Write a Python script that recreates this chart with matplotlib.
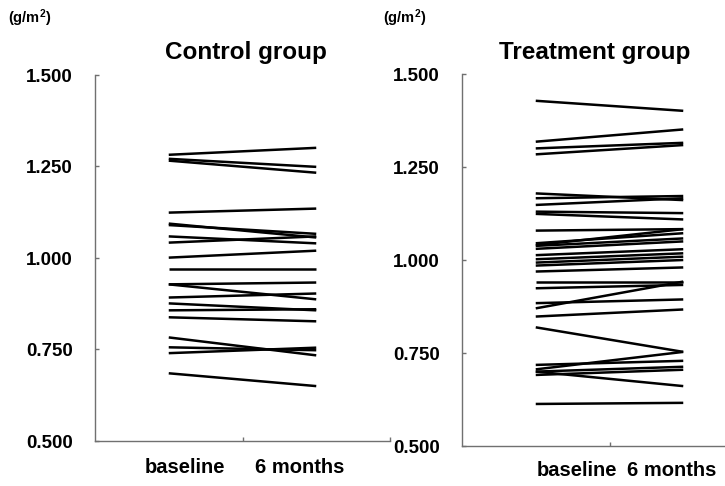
import matplotlib
matplotlib.use("Agg")
import matplotlib.pyplot as plt

plt.rcParams['font.family'] = ['Liberation Sans', 'DejaVu Sans']
plt.rcParams['mathtext.fontset'] = 'custom'
plt.rcParams['mathtext.rm'] = 'Liberation Sans'
plt.rcParams['mathtext.bf'] = 'Liberation Sans:bold'
plt.rcParams['mathtext.default'] = 'bf'

# ---- data ----
groups = ["Control group", "Treatment group"]
time_labels = ["baseline", "6 months"]
unit_label = "(g/m$^{2}$)"
yticks = [0.500, 0.750, 1.000, 1.250, 1.500]
ytick_labels = ["0.500", "0.750", "1.000", "1.250", "1.500"]

control_baseline = [1.282, 1.271, 1.266, 1.124, 1.094, 1.090, 1.059, 1.042, 1.001,
                    0.969, 0.928, 0.928, 0.892, 0.876, 0.857, 0.838, 0.783, 0.756,
                    0.740, 0.685]
control_6months = [1.301, 1.249, 1.233, 1.135, 1.056, 1.066, 1.040, 1.059, 1.020,
                   0.969, 0.933, 0.887, 0.903, 0.857, 0.860, 0.827, 0.734, 0.748,
                   0.755, 0.650]

treat_baseline = [1.428, 1.318, 1.300, 1.284, 1.179, 1.166, 1.148, 1.130, 1.124,
                  1.079, 1.045, 1.038, 1.040, 1.030, 1.013, 1.002, 0.993, 0.985,
                  0.969, 0.942, 0.924, 0.884, 0.870, 0.848, 0.819, 0.718, 0.706,
                  0.700, 0.691, 0.700, 0.613]
treat_6months = [1.401, 1.351, 1.315, 1.309, 1.161, 1.172, 1.166, 1.126, 1.109,
                 1.083, 1.072, 1.058, 1.083, 1.050, 1.029, 1.018, 1.009, 1.000,
                 0.980, 0.942, 0.933, 0.894, 0.942, 0.867, 0.753, 0.729, 0.753,
                 0.713, 0.705, 0.661, 0.616]

W, H = 725, 486
fig = plt.figure(figsize=(W / 100, H / 100), dpi=100)

panels = [
    dict(rect=(95, 75, 390, 441), base=control_baseline, six=control_6months,
         unit_xy=(8, 18), title_x=246, lab_x=(0.61, 1.39), lab_y=-0.072),
    dict(rect=(462, 74, 757, 446), base=treat_baseline, six=treat_6months,
         unit_xy=(383, 18), title_x=595, lab_x=(0.78, 1.42), lab_y=-0.066),
]

for g, p in zip(groups, panels):
    x0, ytop, x1, ybot = p['rect']
    ax = fig.add_axes([x0 / W, 1 - ybot / H, (x1 - x0) / W, (ybot - ytop) / H])
    for b, s in zip(p['base'], p['six']):
        ax.plot([0.5, 1.5], [b, s], color='black', lw=1.8, solid_capstyle='butt',
                clip_on=False)
    ax.set_xlim(0, 2)
    ax.set_ylim(0.5, 1.5)
    for side in ['top', 'right']:
        ax.spines[side].set_visible(False)
    for side in ['left', 'bottom']:
        ax.spines[side].set_color('#707070')
        ax.spines[side].set_linewidth(1.0)
    ax.set_yticks(yticks)
    ax.set_yticklabels(ytick_labels, fontsize=13.5, fontweight='bold')
    ax.set_xticks([1, 2])
    ax.set_xticklabels([])
    ax.tick_params(axis='both', direction='in', length=3, color='#707070', width=1)
    ax.tick_params(axis='y', pad=16)
    for lx, lab in zip(p['lab_x'], time_labels):
        ax.text(lx, p['lab_y'], lab, transform=ax.get_xaxis_transform(), ha='center',
                va='center', fontsize=14.5, fontweight='bold')
    fig.text(p['title_x'] / W, 1 - 52 / H, g, ha='center', va='center',
             fontsize=17.5, fontweight='bold')
    fig.text(p['unit_xy'][0] / W, 1 - p['unit_xy'][1] / H, unit_label, ha='left',
             va='center', fontsize=10.5, fontweight='bold')

fig.savefig("out.png", dpi=100)
